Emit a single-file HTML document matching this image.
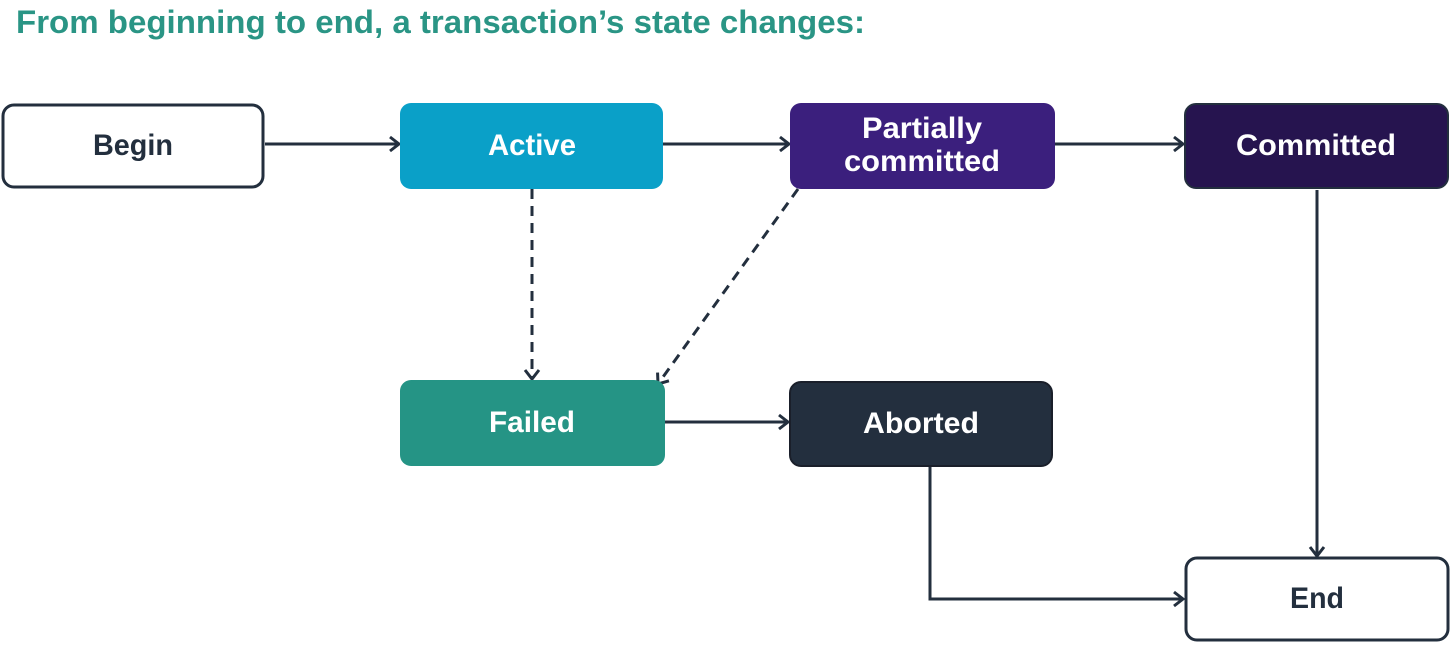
<!DOCTYPE html>
<html><head><meta charset="utf-8"><style>
html,body{margin:0;padding:0;background:#fff;}
svg{display:block}
text{font-family:"Liberation Sans","DejaVu Sans",sans-serif;font-weight:bold;}
</style></head><body>
<svg width="1454" height="645" viewBox="0 0 1454 645">
<defs>
<marker id="a" markerWidth="18" markerHeight="18" refX="13" refY="9" orient="auto" markerUnits="userSpaceOnUse">
<path d="M4,2 L13,9 L4,16" fill="none" stroke="#232f3e" stroke-width="3"/>
</marker>
</defs>
<text x="16" y="33" font-size="32" fill="#2a9585" textLength="849" lengthAdjust="spacingAndGlyphs">From beginning to end, a transaction’s state changes:</text>

<g stroke="#232f3e" stroke-width="3" fill="none">
<line x1="265" y1="144" x2="399" y2="144" marker-end="url(#a)"/>
<line x1="663" y1="144" x2="789" y2="144" marker-end="url(#a)"/>
<line x1="1055" y1="144" x2="1183" y2="144" marker-end="url(#a)"/>
<line x1="665" y1="422" x2="788" y2="422" marker-end="url(#a)"/>
<line x1="1317" y1="190" x2="1317" y2="556" marker-end="url(#a)"/>
<polyline points="930,466 930,599 1183,599" marker-end="url(#a)"/>
<line x1="532" y1="189" x2="532" y2="379" stroke-dasharray="10,7" marker-end="url(#a)"/>
<line x1="798" y1="189" x2="658" y2="384" stroke-dasharray="10,7" marker-end="url(#a)"/>
</g>

<rect x="3" y="105" width="260" height="82" rx="11" fill="#fff" stroke="#232f3e" stroke-width="3"/>
<rect x="400" y="103" width="263" height="86" rx="11" fill="#0aa0c8"/>
<rect x="790" y="103" width="265" height="86" rx="11" fill="#3b1f7d"/>
<rect x="1185" y="104" width="263" height="84" rx="11" fill="#26144f" stroke="#232f3e" stroke-width="2"/>
<rect x="400" y="380" width="265" height="86" rx="11" fill="#259485"/>
<rect x="790" y="382" width="262" height="84" rx="11" fill="#232f3e" stroke="#1a1f2a" stroke-width="2"/>
<rect x="1186" y="558" width="262" height="82" rx="11" fill="#fff" stroke="#232f3e" stroke-width="3"/>

<g font-size="30" text-anchor="middle">
<text x="133" y="155" fill="#232f3e" textLength="80" lengthAdjust="spacingAndGlyphs">Begin</text>
<text x="532" y="155" fill="#fff" textLength="88" lengthAdjust="spacingAndGlyphs">Active</text>
<text x="922" y="138" fill="#fff" textLength="120" lengthAdjust="spacingAndGlyphs">Partially</text>
<text x="922" y="171" fill="#fff" textLength="156" lengthAdjust="spacingAndGlyphs">committed</text>
<text x="1316" y="155" fill="#fff" textLength="160" lengthAdjust="spacingAndGlyphs">Committed</text>
<text x="532" y="432" fill="#fff" textLength="86" lengthAdjust="spacingAndGlyphs">Failed</text>
<text x="921" y="433" fill="#fff" textLength="116" lengthAdjust="spacingAndGlyphs">Aborted</text>
<text x="1317" y="608" fill="#232f3e" textLength="54" lengthAdjust="spacingAndGlyphs">End</text>
</g>
</svg>
</body></html>
